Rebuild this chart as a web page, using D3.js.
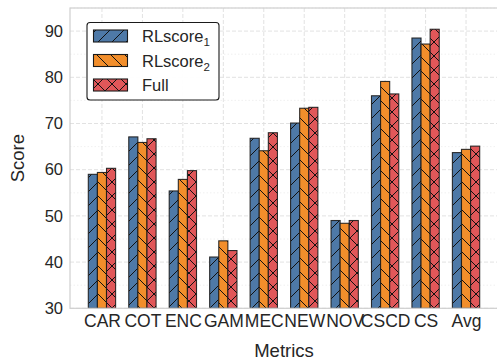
<!DOCTYPE html>
<html><head><meta charset="utf-8">
<script src="https://cdn.jsdelivr.net/npm/d3@7/dist/d3.min.js"></script>
<style>
html,body{margin:0;padding:0;background:#fff;}
svg{display:block;font-family:"Liberation Sans",Arial,sans-serif;}
</style></head>
<body><svg id="chart" width="497" height="364"></svg>
<script>
const categories = ["CAR","COT","ENC","GAM","MEC","NEW","NOV","CSCD","CS","Avg"];
const seriesNames = ["RLscore","RLscore","Full"];
const seriesSubs = ["1","2",""];
const rlscore1 = [59.0,67.1,55.4,41.1,66.8,70.1,49.0,76.0,88.5,63.7];
const rlscore2 = [59.4,65.9,57.9,44.6,64.1,73.3,48.4,79.1,87.2,64.4];
const full     = [60.3,66.7,59.8,42.5,68.0,73.5,49.0,76.4,90.4,65.1];
const yTicks = [30,40,50,60,70,80,90];
const yMinorTicks = [35,45,55,65,75,85,95];
const colors = ["#4e79a7","#f28e2b","#e15759"];
const hatches = ["/","\\","x"];
const series = [rlscore1, rlscore2, full];

const svg = d3.select("#chart");
const L = 70, R = 498, T = 8, B = 308.3;
const x = d3.scaleLinear().domain([-0.79, categories.length - 1 + 0.79]).range([L, R]);
const y = d3.scaleLinear().domain([30, 95]).range([B, T]);
const barW = 0.225;

// hatch patterns
const defs = svg.append("defs");
const S = 14;
hatches.forEach((h, i) => {
  const p = defs.append("pattern").attr("id", "h" + i).attr("patternUnits", "userSpaceOnUse")
    .attr("width", S).attr("height", S);
  p.append("rect").attr("width", S).attr("height", S).attr("fill", colors[i]);
  const g = p.append("g").attr("stroke", "#111").attr("stroke-width", 1);
  if (h === "/" || h === "x") {
    g.append("line").attr("x1", 0).attr("y1", S).attr("x2", S).attr("y2", 0);
    g.append("line").attr("x1", -S/2).attr("y1", S/2).attr("x2", S/2).attr("y2", -S/2);
    g.append("line").attr("x1", S/2).attr("y1", S*1.5).attr("x2", S*1.5).attr("y2", S/2);
  }
  if (h === "\\" || h === "x") {
    g.append("line").attr("x1", 0).attr("y1", 0).attr("x2", S).attr("y2", S);
    g.append("line").attr("x1", -S/2).attr("y1", S/2).attr("x2", S/2).attr("y2", S*1.5);
    g.append("line").attr("x1", S/2).attr("y1", -S/2).attr("x2", S*1.5).attr("y2", S/2);
  }
});
defs.append("clipPath").attr("id", "plotclip").append("rect")
  .attr("x", L).attr("y", T).attr("width", R - L).attr("height", B - T);

// grid
const grid = svg.append("g");
grid.selectAll(".minor").data(yMinorTicks).join("line")
  .attr("x1", L).attr("x2", R).attr("y1", d => y(d)).attr("y2", d => y(d))
  .attr("stroke", "#ececec").attr("stroke-width", 0.8).attr("stroke-dasharray", "1.5,2");
grid.selectAll(".major").data(yTicks).join("line")
  .attr("x1", L).attr("x2", R).attr("y1", d => y(d)).attr("y2", d => y(d))
  .attr("stroke", "#e2e2e2").attr("stroke-width", 1).attr("stroke-dasharray", "4,2");
grid.selectAll(".vx").data(categories).join("line")
  .attr("x1", (d, i) => x(i)).attr("x2", (d, i) => x(i)).attr("y1", T).attr("y2", B)
  .attr("stroke", "#e2e2e2").attr("stroke-width", 1).attr("stroke-dasharray", "4,2");

// bars
const bars = svg.append("g").attr("clip-path", "url(#plotclip)");
series.forEach((vals, s) => {
  const off = (s - 1) * barW;
  bars.append("g").selectAll("rect").data(vals).join("rect")
    .attr("x", (d, i) => x(i + off - barW / 2))
    .attr("width", x(barW) - x(0))
    .attr("y", d => y(d))
    .attr("height", d => B - y(d))
    .attr("fill", "url(#h" + s + ")")
    .attr("stroke", "#1a1a1a").attr("stroke-width", 1.1).attr("stroke-opacity", 0.9);
});

// spines
svg.append("rect").attr("x", L).attr("y", T).attr("width", R - L).attr("height", B - T)
  .attr("fill", "none").attr("stroke", "#cfcfcf").attr("stroke-width", 1.2);

// axes
const yAxis = svg.append("g").attr("transform", `translate(${L},0)`)
  .call(d3.axisLeft(y).tickValues(yTicks).tickSize(0).tickPadding(7));
yAxis.select(".domain").remove();
yAxis.selectAll("text").attr("font-size", 16.5).attr("fill", "#262626")
  .attr("font-family", "Liberation Sans, Arial, sans-serif");

const xAxis = svg.append("g").attr("transform", `translate(0,${B})`)
  .call(d3.axisBottom(x).tickValues(d3.range(categories.length)).tickFormat(i => categories[i]).tickSize(0).tickPadding(6));
xAxis.select(".domain").remove();
xAxis.selectAll("text").attr("font-size", 17.5).attr("fill", "#262626")
  .attr("font-family", "Liberation Sans, Arial, sans-serif");

svg.append("text").attr("x", (L + R) / 2).attr("y", 357).attr("text-anchor", "middle")
  .attr("font-size", 18.5).attr("fill", "#262626").text("Metrics");
svg.append("text").attr("transform", `translate(24,${(T + B) / 2}) rotate(-90)`)
  .attr("text-anchor", "middle").attr("font-size", 18.5).attr("fill", "#262626").text("Score");

// legend
const lg = svg.append("g");
lg.append("rect").attr("x", 87).attr("y", 22.5).attr("width", 132).attr("height", 77.5)
  .attr("rx", 3).attr("fill", "#fff").attr("fill-opacity", 0.95)
  .attr("stroke", "#1a1a1a").attr("stroke-width", 1.1);
seriesNames.forEach((name, i) => {
  const cy = 36 + i * 24.5;
  lg.append("rect").attr("x", 93.5).attr("y", cy - 6).attr("width", 34).attr("height", 12)
    .attr("fill", "url(#h" + i + ")").attr("stroke", "#1a1a1a").attr("stroke-width", 1.1);
  const t = lg.append("text").attr("x", 142).attr("y", cy + 6).attr("font-size", 16.5)
    .attr("fill", "#262626");
  t.append("tspan").text(name);
  if (seriesSubs[i]) t.append("tspan").attr("font-size", 11.5).attr("dy", 4).text(seriesSubs[i]);
});
</script></body></html>
